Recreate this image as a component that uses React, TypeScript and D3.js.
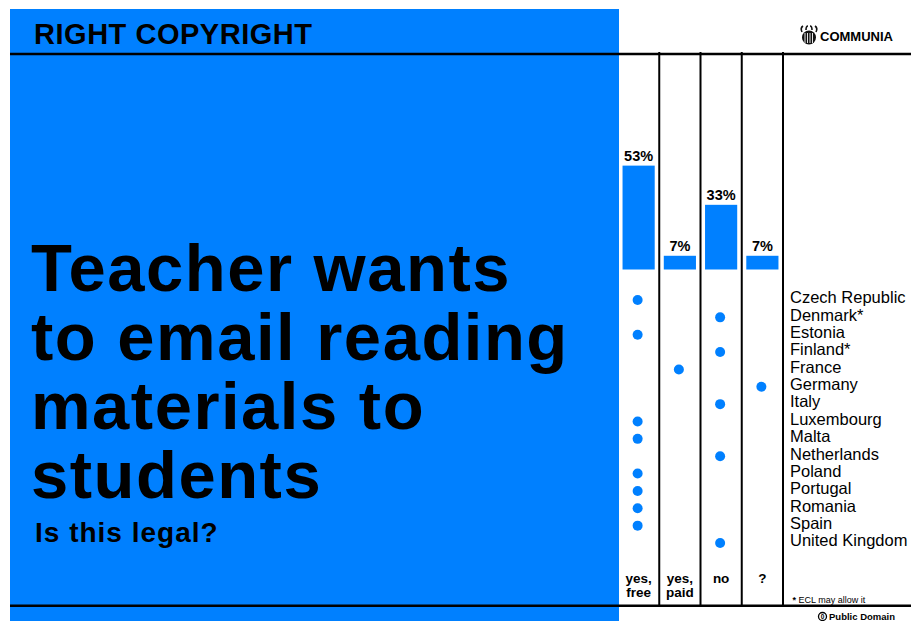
import React from 'react';
import * as d3 from 'd3';

const answers = ['yes, free', 'yes, paid', 'no', '?'];
const answerLines = [['yes,', 'free'], ['yes,', 'paid'], ['no'], ['?']];
const percents = [53, 7, 33, 7];
const countries = [
  'Czech Republic', 'Denmark*', 'Estonia', 'Finland*', 'France', 'Germany', 'Italy',
  'Luxembourg', 'Malta', 'Netherlands', 'Poland', 'Portugal', 'Romania', 'Spain', 'United Kingdom',
];
const countryAnswers = [
  'yes, free', 'no', 'yes, free', 'no', 'yes, paid', '?', 'no',
  'yes, free', 'yes, free', 'no', 'yes, free', 'yes, free', 'yes, free', 'yes, free', 'no',
];
const header = 'RIGHT COPYRIGHT';
const titleLines = ['Teacher wants', 'to email reading', 'materials to', 'students'];
const subtitle = 'Is this legal?';
const footnote = '* ECL may allow it';
const license = 'Public Domain';
const brand = 'COMMUNIA';

const W = 911;
const H = 621;
const BLUE = '#0080ff';
const FONT = '"Liberation Sans", Arial, Helvetica, sans-serif';

export default function App() {
  const x = d3.scaleBand<string>().domain(answers).range([618, 783]).paddingInner(0.22).paddingOuter(0.11);
  const xs = d3.scaleBand<string>().domain(answers).range([618, 783]);
  const y = d3.scaleLinear().domain([0, 100]).range([269.5, 269.5 - 196]);
  const rowY = d3.scalePoint<string>().domain(countries).range([300, 543]);

  return (
    <svg width={W} height={H} style={{ position: 'absolute', left: 0, top: 0, background: '#fff' }} fontFamily={FONT}>
      <rect x={10} y={9} width={609} height={H - 9} fill={BLUE} />
      {/* header */}
      <text x={34} y={44} fontSize={29} fontWeight="bold" textLength={278} lengthAdjust="spacing">{header}</text>
      {/* title */}
      {titleLines.map((t, i) => (
        <text key={t} x={31} y={291 + i * 69} fontSize={67} fontWeight="bold" letterSpacing={1.5}>{t}</text>
      ))}
      <text x={35} y={541.7} fontSize={28} fontWeight="bold" letterSpacing={1}>{subtitle}</text>

      {/* logo */}
      <g transform="translate(809,36)">
        <ellipse cx={0} cy={1.5} rx={7} ry={7} fill="#111" />
        {[-4, -1.5, 1, 3.5].map((d) => (
          <line key={d} x1={d} x2={d} y1={-3} y2={7} stroke="#fff" strokeWidth={0.9} />
        ))}
        <path d="M-7,-4 q-2,-4 1,-6 M-3,-6 q0,-4 2,-4 M3,-6 q0,-4 -2,-4 M7,-4 q2,-4 -1,-6" stroke="#111" strokeWidth={1.6} fill="none" />
      </g>
      <text x={820} y={41} fontSize={12.5} fontWeight="bold" textLength={73} lengthAdjust="spacingAndGlyphs">{brand}</text>

      {/* bars */}
      {answers.map((a, i) => (
        <g key={a}>
          <rect x={x(a)} y={y(percents[i])} width={x.bandwidth()} height={y(0) - y(percents[i])} fill={BLUE} />
          <text x={(x(a) as number) + x.bandwidth() / 2} y={y(percents[i]) - 4.6} textAnchor="middle" fontSize={14.5} fontWeight="bold">{percents[i]}%</text>
        </g>
      ))}

      {/* dots */}
      {countries.map((c, i) => (
        <circle key={c} cx={(xs(countryAnswers[i]) as number) + xs.bandwidth() / 2 - 1} cy={rowY(c)} r={5} fill={BLUE} />
      ))}

      {/* country labels */}
      {countries.map((c) => (
        <text key={c} x={790} y={rowY(c)} dy="0.2em" fontSize={16.5}>{c}</text>
      ))}

      {/* grid lines */}
      <line x1={10} x2={W} y1={54} y2={54} stroke="#000" strokeWidth={2.5} />
      <line x1={10} x2={W} y1={605.7} y2={605.7} stroke="#000" strokeWidth={2.5} />
      {answers.map((a) => (
        <line key={a} x1={(xs(a) as number) + xs.bandwidth()} x2={(xs(a) as number) + xs.bandwidth()} y1={52} y2={605} stroke="#000" strokeWidth={2} />
      ))}

      {/* answer labels */}
      {answers.map((a, i) => (
        <text key={a} x={(xs(a) as number) + xs.bandwidth() / 2} y={583} textAnchor="middle" fontSize={13.5} fontWeight="bold">
          {answerLines[i].map((l, j) => (
            <tspan key={j} x={(xs(a) as number) + xs.bandwidth() / 2} dy={j === 0 ? 0 : 14}>{l}</tspan>
          ))}
        </text>
      ))}

      <text x={792.5} y={603} fontSize={9}>
        <tspan fontWeight="bold">*</tspan>{footnote.slice(1)}
      </text>

      {/* public domain */}
      <circle cx={822.5} cy={616.5} r={4} fill="none" stroke="#000" strokeWidth={1.3} />
      <text x={822.5} y={619.3} textAnchor="middle" fontSize={6.5} fontWeight="bold">0</text>
      <text x={829} y={620} fontSize={9.5} fontWeight="bold">{license}</text>
    </svg>
  );
}
